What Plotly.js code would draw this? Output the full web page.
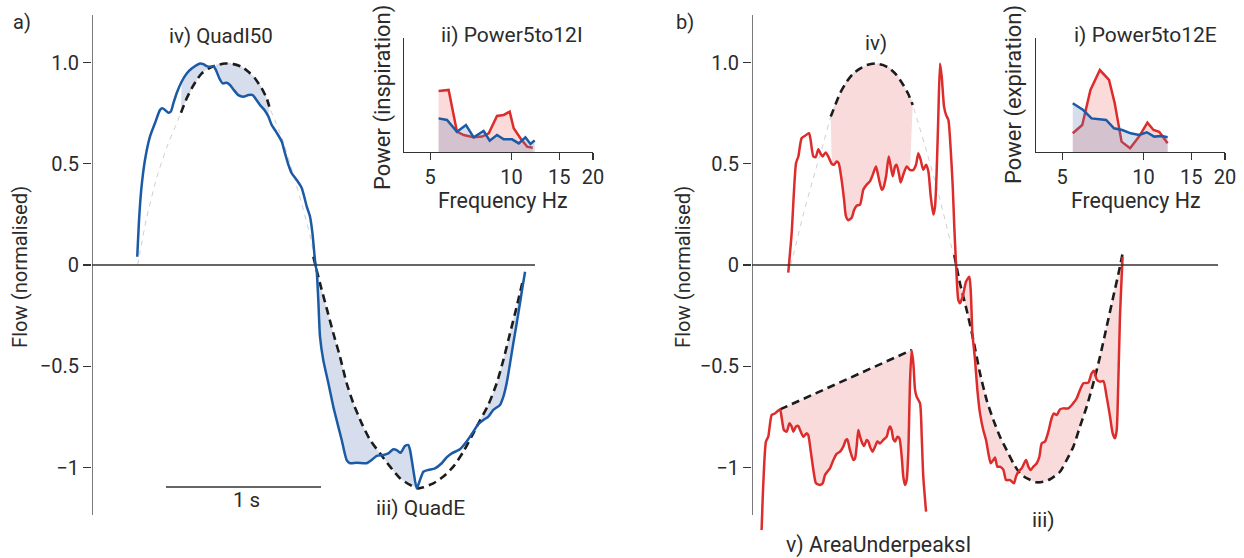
<!DOCTYPE html>
<html><head><meta charset="utf-8">
<script src="https://cdn.plot.ly/plotly-3.0.1.min.js"></script>
<style>html,body{margin:0;padding:0;background:#fff;}#chart{width:1244px;height:558px;}</style>
</head><body><div id="chart"></div>
<script>
// ---------- Panel a: flow trace (blue), time in s, flow normalised ----------
const aT = [0.292,0.305,0.320,0.342,0.374,0.406,0.439,0.454,0.471,0.492,0.508,0.525,0.546,0.578,0.611,0.643,0.675,0.697,0.718,0.740,0.761,0.783,0.800,0.822,0.843,0.869,0.890,0.912,0.944,0.976,1.009,1.037,1.058,1.084,1.116,1.138,1.159,1.191,1.224,1.245,1.267,1.288,1.320,1.353,1.385,1.406,1.422,1.434,1.443,
 1.449,1.460,1.471,1.492,1.525,1.557,1.578,1.611,1.643,1.665,1.708,1.772,1.804,1.837,1.880,1.912,1.944,1.966,1.991,2.019,2.041,2.052,2.073,2.095,2.116,2.138,2.170,2.213,2.256,2.288,2.321,2.374,2.417,2.460,2.493,2.525,2.557,2.589,2.632,2.654,2.675,2.697,2.718,2.740,2.761,2.778,2.794];
const aF = [0.041,0.241,0.389,0.520,0.634,0.700,0.766,0.774,0.766,0.752,0.757,0.798,0.848,0.905,0.946,0.970,0.987,0.995,0.992,0.982,0.979,0.982,0.962,0.921,0.897,0.900,0.889,0.867,0.839,0.831,0.839,0.839,0.818,0.790,0.762,0.733,0.692,0.654,0.610,0.552,0.495,0.454,0.421,0.380,0.290,0.241,0.159,0.061,-0.005,
 -0.025,-0.173,-0.354,-0.469,-0.584,-0.700,-0.765,-0.864,-0.963,-0.979,-0.976,-0.979,-0.963,-0.943,-0.938,-0.930,-0.910,-0.914,-0.927,-0.894,-0.889,-0.914,-1.012,-1.103,-1.062,-1.021,-1.012,-1.004,-0.979,-0.950,-0.930,-0.910,-0.872,-0.823,-0.785,-0.765,-0.749,-0.716,-0.691,-0.650,-0.584,-0.486,-0.387,-0.288,-0.189,-0.107,-0.033];
// quadratic fit, inspiration (panel a)
const aFitIT = [0.295,0.310,0.353,0.417,0.482,0.546,0.574,0.611,0.643,0.675,0.708,0.751,0.804,0.858,0.912,0.966,1.009,1.052,1.095,1.127,1.144,1.170,1.234,1.299,1.363,1.417,1.439];
const aFitIF = [0,0.065,0.235,0.430,0.580,0.700,0.752,0.823,0.872,0.913,0.946,0.970,0.987,0.995,0.992,0.979,0.954,0.921,0.872,0.823,0.782,0.733,0.610,0.445,0.275,0.110,0];
const aQuadI50 = [0.574,1.144];
// quadratic fit, expiration (panel a)
const aFitET = [1.428,1.471,1.514,1.557,1.600,1.643,1.686,1.740,1.794,1.858,1.923,1.987,2.052,2.105,2.138,2.202,2.267,2.331,2.396,2.460,2.503,2.557,2.611,2.654,2.697,2.740,2.783];
const aFitEF = [0.041,-0.091,-0.214,-0.337,-0.453,-0.584,-0.683,-0.782,-0.864,-0.930,-0.996,-1.053,-1.086,-1.103,-1.098,-1.078,-1.045,-0.996,-0.922,-0.831,-0.768,-0.690,-0.584,-0.469,-0.337,-0.206,-0.066];
const aQuadEFill = [[1.428,2.105],[2.460,2.794]];

// ---------- Panel b: flow trace (red) ----------
const bT = [0.234,0.256,0.284,0.299,0.320,0.342,0.368,0.378,0.396,0.411,0.428,0.443,0.456,0.475,0.492,0.514,0.529,0.546,0.559,0.578,0.594,0.606,0.622,0.643,0.658,0.675,0.697,0.718,0.740,0.761,0.783,0.800,0.815,0.837,0.847,0.865,0.882,0.895,0.908,0.923,0.933,0.951,0.959,0.976,0.998,1.019,1.041,1.058,1.073,1.088,1.105,1.123,1.138,1.153,1.170,1.181,1.191,1.202,1.213,1.224,1.239,1.252,1.267,1.282,1.295,1.305,1.316,
 1.331,1.342,1.359,1.381,1.402,1.411,1.422,1.439,1.454,1.471,1.492,1.510,1.525,1.540,1.557,1.568,1.583,1.600,1.622,1.639,1.665,1.690,1.703,1.718,1.740,1.768,1.783,1.798,1.815,1.837,1.854,1.869,1.890,1.912,1.933,1.948,1.966,1.987,2.009,2.041,2.069,2.095,2.116,2.138,2.170,2.191,2.206,2.224,2.245,2.267,2.288,2.310,2.327,2.342,2.353,2.363,2.374,2.385,2.391];
const bF = [-0.038,0.159,0.503,0.536,0.626,0.638,0.651,0.618,0.536,0.533,0.572,0.549,0.536,0.556,0.536,0.500,0.495,0.511,0.503,0.421,0.323,0.241,0.221,0.233,0.270,0.293,0.298,0.372,0.397,0.413,0.454,0.487,0.438,0.372,0.380,0.438,0.536,0.487,0.438,0.487,0.495,0.438,0.408,0.446,0.487,0.470,0.470,0.495,0.552,0.520,0.470,0.495,0.462,0.339,0.249,0.290,0.454,0.733,0.995,0.930,0.782,0.741,0.716,0.569,0.389,0.192,0.011,
 -0.173,-0.189,-0.156,-0.082,-0.058,-0.123,-0.337,-0.469,-0.617,-0.733,-0.815,-0.864,-0.930,-0.979,-0.963,-0.950,-0.996,-0.996,-1.012,-1.062,-1.062,-1.078,-1.045,-1.021,-1.004,-0.963,-0.996,-1.012,-0.996,-0.979,-0.947,-0.881,-0.872,-0.823,-0.757,-0.733,-0.741,-0.713,-0.708,-0.708,-0.686,-0.658,-0.617,-0.584,-0.581,-0.535,-0.522,-0.565,-0.576,-0.573,-0.650,-0.749,-0.831,-0.856,-0.815,-0.584,-0.255,-0.058,0.041];
const bFitIT = [0.249,0.267,0.331,0.396,0.460,0.508,0.525,0.568,0.611,0.654,0.697,0.740,0.794,0.847,0.890,0.933,0.976,1.009,1.037,1.073,1.127,1.191,1.245,1.299,1.312];
const bFitIF = [0,0.050,0.250,0.430,0.600,0.733,0.766,0.848,0.905,0.946,0.970,0.987,0.995,0.987,0.970,0.938,0.889,0.843,0.790,0.700,0.560,0.385,0.225,0.050,0];
const bQuadI = [0.508,1.037];
const bFitET = [1.305,1.342,1.385,1.428,1.471,1.514,1.557,1.600,1.643,1.686,1.729,1.772,1.837,1.880,1.923,1.987,2.030,2.073,2.116,2.159,2.202,2.245,2.288,2.331,2.374,2.391];
const bFitEF = [0.049,-0.091,-0.222,-0.370,-0.535,-0.667,-0.765,-0.848,-0.914,-0.979,-1.029,-1.053,-1.073,-1.070,-1.058,-1.021,-0.963,-0.897,-0.798,-0.700,-0.584,-0.453,-0.305,-0.156,-0.008,0.058];
const bQuadEFill = [1.305,2.391];
// v) AreaUnderpeaksI trace and its peak-to-peak line
const vT = [0.062,0.073,0.090,0.105,0.127,0.148,0.170,0.181,0.192,0.206,0.224,0.241,0.256,0.267,0.284,0.299,0.310,0.331,0.353,0.363,0.378,0.396,0.413,0.439,0.456,0.471,0.486,0.503,0.525,0.546,0.568,0.589,0.606,0.615,0.632,0.654,0.665,0.675,0.686,0.697,0.712,0.723,0.740,0.751,0.761,0.778,0.794,0.809,0.826,0.847,0.869,0.880,0.890,0.901,0.912,0.923,0.938,0.951,0.966,0.976,0.987,0.998,1.009,1.019,1.030,1.041,1.052,1.062,1.084,1.095,1.105,1.123];
const vF = [-1.309,-1.078,-0.872,-0.848,-0.741,-0.733,-0.719,-0.713,-0.757,-0.815,-0.823,-0.782,-0.798,-0.823,-0.798,-0.795,-0.815,-0.848,-0.831,-0.840,-0.914,-1.012,-1.078,-1.086,-1.078,-1.037,-1.021,-1.004,-0.963,-0.933,-0.922,-0.897,-0.864,-0.861,-0.914,-0.963,-0.955,-0.897,-0.815,-0.848,-0.881,-0.894,-0.864,-0.872,-0.897,-0.922,-0.897,-0.872,-0.881,-0.864,-0.848,-0.815,-0.798,-0.815,-0.861,-0.872,-0.848,-0.856,-0.947,-1.045,-1.086,-1.062,-0.914,-0.584,-0.420,-0.486,-0.617,-0.650,-0.683,-0.848,-1.045,-1.218];
const vPeakT = [0.181,1.030];
const vPeakF = [-0.713,-0.420];

// ---------- Insets: power spectra (frequency Hz, power arbitrary) ----------
const inspRedHz = [5.37,5.85,6.28,6.65,7.24,7.78,8.23,8.83,9.35,9.84,10.18,10.78,11.41,11.97];
const inspRedP  = [0.535,0.544,0.178,0.149,0.129,0.135,0.164,0.316,0.325,0.354,0.208,0.120,0.047,0.038];
const inspBlueHz = [5.37,5.77,6.28,6.78,7.24,7.88,8.30,8.83,9.35,10.04,10.63,11.25,11.74,12.18];
const inspBlueP  = [0.295,0.281,0.178,0.237,0.129,0.184,0.099,0.149,0.111,0.111,0.076,0.129,0.070,0.102];
const expRedHz = [5.47,5.93,6.36,6.89,7.45,7.82,8.29,8.91,9.62,10.33,10.88,11.42,12.27];
const expRedP  = [0.164,0.237,0.544,0.719,0.632,0.427,0.091,0.032,0.135,0.257,0.193,0.178,0.076];
const expBlueHz = [5.47,5.98,6.42,7.27,7.77,8.34,8.96,9.62,10.28,10.94,11.69,12.27];
const expBlueP  = [0.427,0.368,0.295,0.281,0.208,0.193,0.164,0.149,0.173,0.135,0.140,0.129];
const freqTicks = [5,10,15,20];
const flowTicks = [-1,-0.5,0,0.5,1];
const flowTickText = ['\u22121','\u22120.5','0','0.5','1.0'];

// ---------- styling ----------
const W = 1244, H = 558;
const fx = p => p / W, fy = p => 1 - p / H;
const BLUE = '#1b5aa5', RED = '#dd2c2c', BLUEFILL = 'rgb(214,222,238)', REDFILL = 'rgb(250,219,219)';
const AX = '#333333', TXT = '#2b2b2b', FONT = 'Roboto, "Noto Sans", sans-serif';
const SEC = 155, UNIT = 202.5; // px per second, px per flow unit

function seg(t, f, lo, hi) {
  const x = [], y = [];
  for (let i = 0; i < t.length; i++) if (t[i] >= lo - 1e-9 && t[i] <= hi + 1e-9) { x.push(t[i]); y.push(f[i]); }
  return {x, y};
}
const traces = [];
function fillBetween(base, top, color, xa, ya) {
  traces.push({x: base.x, y: base.y, xaxis: xa, yaxis: ya, mode: 'lines', line: {width: 0, shape: 'spline', smoothing: 0.6}, hoverinfo: 'skip', showlegend: false});
  traces.push({x: top.x, y: top.y, xaxis: xa, yaxis: ya, mode: 'lines', line: {width: 0, shape: 'spline', smoothing: 0.6}, fill: 'tonexty', fillcolor: color, hoverinfo: 'skip', showlegend: false});
}
function line(x, y, xa, ya, color, width, dash, shape) {
  traces.push({x, y, xaxis: xa, yaxis: ya, mode: 'lines', line: {color, width, dash: dash || 'solid', shape: shape || 'spline', smoothing: 0.6}, hoverinfo: 'skip', showlegend: false});
}

// panel a fills
fillBetween(seg(aFitIT, aFitIF, aQuadI50[0], aQuadI50[1]), seg(aT, aF, aQuadI50[0], aQuadI50[1]), BLUEFILL, 'x', 'y');
aQuadEFill.forEach(w => fillBetween(seg(aFitET, aFitEF, w[0], w[1]), seg(aT, aF, w[0], w[1]), BLUEFILL, 'x', 'y'));
// panel b fills
fillBetween(seg(bFitIT, bFitIF, bQuadI[0], bQuadI[1]), seg(bT, bF, bQuadI[0], bQuadI[1]), REDFILL, 'x3', 'y3');
fillBetween(seg(bFitET, bFitEF, bQuadEFill[0], bQuadEFill[1]), seg(bT, bF, 1.316, bQuadEFill[1]), REDFILL, 'x3', 'y3');
fillBetween({x: vPeakT, y: vPeakF}, seg(vT, vF, vPeakT[0], vPeakT[1]), REDFILL, 'x3', 'y3');

// fits
line(aFitIT, aFitIF, 'x', 'y', '#cfcfcf', 1, '5px,5px');
const aI50 = seg(aFitIT, aFitIF, aQuadI50[0], aQuadI50[1]);
line(aI50.x, aI50.y, 'x', 'y', '#1c1c1c', 2.6, '8px,5px');
line(aFitET, aFitEF, 'x', 'y', '#1c1c1c', 2.6, '8px,5px');
line(bFitIT, bFitIF, 'x3', 'y3', '#cfcfcf', 1, '5px,5px');
const bI = seg(bFitIT, bFitIF, bQuadI[0], bQuadI[1]);
line(bI.x, bI.y, 'x3', 'y3', '#1c1c1c', 2.6, '8px,5px');
line(bFitET, bFitEF, 'x3', 'y3', '#1c1c1c', 2.6, '8px,5px');
line(vPeakT, vPeakF, 'x3', 'y3', '#1c1c1c', 2.6, '8px,5px', 'linear');
// flow traces
line(aT, aF, 'x', 'y', BLUE, 2.5);
line(bT, bF, 'x3', 'y3', RED, 2.5);
line(vT, vF, 'x3', 'y3', RED, 2.5);

// insets
function spectrum(hz, p, xa, ya, color, fillcolor) {
  traces.push({x: hz, y: p, xaxis: xa, yaxis: ya, mode: 'lines', fill: 'tozeroy', fillcolor, line: {color, width: 2.5}, hoverinfo: 'skip', showlegend: false});
}
spectrum(inspRedHz, inspRedP, 'x2', 'y2', RED, 'rgba(235,70,70,0.2)');
spectrum(inspBlueHz, inspBlueP, 'x2', 'y2', BLUE, 'rgba(95,123,175,0.25)');
spectrum(expRedHz, expRedP, 'x4', 'y4', RED, 'rgba(235,70,70,0.2)');
spectrum(expBlueHz, expBlueP, 'x4', 'y4', BLUE, 'rgba(95,123,175,0.25)');

const yTop = (265 - 10) / UNIT, yBot = (265 - 540) / UNIT;
const flowAxis = (anchor) => ({
  domain: [fy(540), fy(10)], range: [yBot, yTop], anchor,
  tickvals: flowTicks, ticktext: flowTickText, ticks: 'outside', ticklen: 8, tickwidth: 1.3, tickcolor: AX,
  showline: false, showgrid: false, zeroline: false, tickfont: {size: 20, color: TXT, family: FONT}, fixedrange: true
});
const freqAxis = (x0, anchor) => ({
  domain: [fx(x0), fx(x0 + 189)], type: 'log', range: [Math.log10(4), Math.log10(20)], anchor,
  tickvals: freqTicks, ticktext: freqTicks.map(String), ticks: 'outside', ticklen: 7, tickwidth: 1.3, tickcolor: AX,
  showline: true, linecolor: AX, linewidth: 1.3, showgrid: false, zeroline: false,
  tickfont: {size: 20, color: TXT, family: FONT}, fixedrange: true
});
const powAxis = (anchor) => ({
  domain: [fy(152), fy(38)], range: [0, 1], anchor, showline: true, linecolor: AX, linewidth: 1.3,
  showticklabels: false, ticks: '', showgrid: false, zeroline: false, fixedrange: true
});

const axLine = {color: AX, width: 1.3};
const yLim = (265 - 15) / UNIT;
const shapes = [
  {type: 'line', xref: 'x', yref: 'y', x0: 0, x1: 0, y0: -yLim, y1: yLim, line: axLine},
  {type: 'line', xref: 'x', yref: 'y', x0: 0, x1: (535 - 92) / SEC, y0: 0, y1: 0, line: axLine},
  {type: 'line', xref: 'x', yref: 'y', x0: (166 - 92) / SEC, x1: (166 - 92) / SEC + 1, y0: (265 - 487) / UNIT, y1: (265 - 487) / UNIT, line: axLine},
  {type: 'line', xref: 'x3', yref: 'y3', x0: 0, x1: 0, y0: -yLim, y1: yLim, line: axLine},
  {type: 'line', xref: 'x3', yref: 'y3', x0: 0, x1: (1218 - 752) / SEC, y0: 0, y1: 0, line: axLine}
];

function ann(text, x, y, size, rot) {
  return {text, x: fx(x), y: fy(y), xref: 'paper', yref: 'paper', showarrow: false, xanchor: 'center', yanchor: 'middle',
    textangle: rot || 0, font: {size: size || 18, color: TXT, family: FONT}};
}
const annotations = [
  ann('a)', 22, 22, 20), ann('b)', 685, 22, 20),
  ann('iv) QuadI50', 221, 36, 20.5), ann('ii) Power5to12I', 512, 35, 21),
  ann('iii) QuadE', 420, 508, 21), ann('1 s', 246, 500, 20.5),
  ann('iv)', 876, 43, 20.5), ann('i) Power5to12E', 1145, 35, 21),
  ann('iii)', 1043, 520, 21), ann('v) AreaUnderpeaksI', 878, 545, 21.3),
  ann('Flow (normalised)', 20, 267, 20.2, -90), ann('Flow (normalised)', 683, 267, 20.2, -90),
  ann('Power (inspiration)', 383, 97, 22, -90), ann('Power (expiration)', 1014, 95, 22, -90),
  ann('Frequency Hz', 503, 200, 21.4), ann('Frequency Hz', 1136, 200, 21.4)
];

const layout = {
  width: W, height: H, margin: {l: 0, r: 0, t: 0, b: 0}, paper_bgcolor: '#fff', plot_bgcolor: 'rgba(0,0,0,0)',
  font: {family: FONT, color: TXT}, showlegend: false,
  xaxis: {domain: [fx(92), fx(540)], range: [0, 448 / SEC], visible: false, anchor: 'y', fixedrange: true},
  yaxis: flowAxis('x'),
  xaxis2: freqAxis(404, 'y2'), yaxis2: powAxis('x2'),
  xaxis3: {domain: [fx(752), fx(1222)], range: [0, 470 / SEC], visible: false, anchor: 'y3', fixedrange: true},
  yaxis3: flowAxis('x3'),
  xaxis4: freqAxis(1036, 'y4'), yaxis4: powAxis('x4'),
  shapes, annotations
};
Plotly.newPlot('chart', traces, layout, {displayModeBar: false, staticPlot: true});
</script></body></html>
